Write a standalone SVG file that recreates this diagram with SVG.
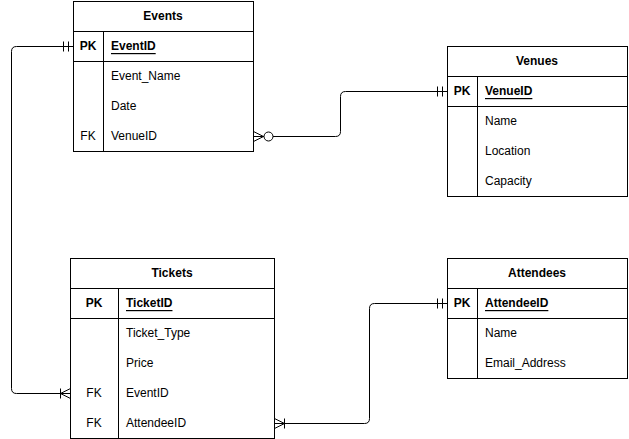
<svg xmlns="http://www.w3.org/2000/svg" width="629" height="439" viewBox="0 0 629 439">
<style>
  .box{fill:#fff;stroke:#000;stroke-width:1}
  .ln{fill:none;stroke:#000;stroke-width:1}
  .t{font-family:"Liberation Sans",Arial,sans-serif;font-size:12px;fill:#000;dominant-baseline:central}
  .h{font-weight:bold;text-anchor:middle}
  .k{text-anchor:middle}
  .b{font-weight:bold}
  .u{font-weight:bold;text-decoration:underline}
  .c{fill:none;stroke:#000;stroke-width:1}
</style>
<rect width="629" height="439" fill="#fff"/>

<g id="connectors">
  <!-- Events.EventID -> Tickets.EventID -->
  <path class="c" d="M73.5,46.5 H16.5 Q11.5,46.5 11.5,51.5 V388.5 Q11.5,393.5 16.5,393.5 H70.5"/>
  <path class="c" d="M63.5,41.5 V51.5 M68.5,41.5 V51.5"/>
  <path class="c" d="M60.5,388.5 V398.5 M70.5,388.5 L60.5,393.5 L70.5,398.5"/>
  <!-- Events.VenueID -> Venues.VenueID -->
  <path class="c" d="M253.5,136.5 H335.5 Q340.5,136.5 340.5,131.5 V96.5 Q340.5,91.5 345.5,91.5 H447.5"/>
  <circle cx="268.5" cy="136.5" r="4.5" fill="#fff" stroke="#000"/>
  <path class="c" d="M253.5,131.5 L263.5,136.5 L253.5,141.5"/>
  <path class="c" d="M437.5,86.5 V96.5 M442.5,86.5 V96.5"/>
  <!-- Tickets.AttendeeID -> Attendees.AttendeeID -->
  <path class="c" d="M274.5,423.5 H364.5 Q369.5,423.5 369.5,418.5 V308.5 Q369.5,303.5 374.5,303.5 H447.5"/>
  <path class="c" d="M284.5,418.5 V428.5 M274.5,418.5 L284.5,423.5 L274.5,428.5"/>
  <path class="c" d="M437.5,298.5 V308.5 M442.5,298.5 V308.5"/>
</g>

<g id="events">
  <rect class="box" x="73.5" y="1.5" width="180" height="150"/>
  <path class="ln" d="M73.5,31.5 H253.5 M73.5,61.5 H253.5 M103.5,31.5 V151.5"/>
  <text class="t h" x="163" y="16">Events</text>
  <text class="t k b" x="88" y="46">PK</text>
  <text class="t u" x="111" y="46">EventID</text>
  <text class="t" x="111" y="76">Event_Name</text>
  <text class="t" x="111" y="106">Date</text>
  <text class="t k" x="88" y="136">FK</text>
  <text class="t" x="111" y="136">VenueID</text>
</g>

<g id="venues">
  <rect class="box" x="447.5" y="46.5" width="180" height="150"/>
  <path class="ln" d="M447.5,76.5 H627.5 M447.5,106.5 H627.5 M477.5,76.5 V196.5"/>
  <text class="t h" x="537" y="61">Venues</text>
  <text class="t k b" x="462" y="91">PK</text>
  <text class="t u" x="485" y="91">VenueID</text>
  <text class="t" x="485" y="121">Name</text>
  <text class="t" x="485" y="151">Location</text>
  <text class="t" x="485" y="181">Capacity</text>
</g>

<g id="tickets">
  <rect class="box" x="70.5" y="258.5" width="204" height="180"/>
  <path class="ln" d="M70.5,288.5 H274.5 M70.5,318.5 H274.5 M118.5,288.5 V438.5"/>
  <text class="t h" x="172" y="273">Tickets</text>
  <text class="t k b" x="94" y="303">PK</text>
  <text class="t u" x="126" y="303">TicketID</text>
  <text class="t" x="126" y="333">Ticket_Type</text>
  <text class="t" x="126" y="363">Price</text>
  <text class="t k" x="94" y="393">FK</text>
  <text class="t" x="126" y="393">EventID</text>
  <text class="t k" x="94" y="423">FK</text>
  <text class="t" x="126" y="423">AttendeeID</text>
</g>

<g id="attendees">
  <rect class="box" x="447.5" y="258.5" width="180" height="120"/>
  <path class="ln" d="M447.5,288.5 H627.5 M447.5,318.5 H627.5 M477.5,288.5 V378.5"/>
  <text class="t h" x="537" y="273">Attendees</text>
  <text class="t k b" x="462" y="303">PK</text>
  <text class="t u" x="485" y="303">AttendeeID</text>
  <text class="t" x="485" y="333">Name</text>
  <text class="t" x="485" y="363">Email_Address</text>
</g>
</svg>
